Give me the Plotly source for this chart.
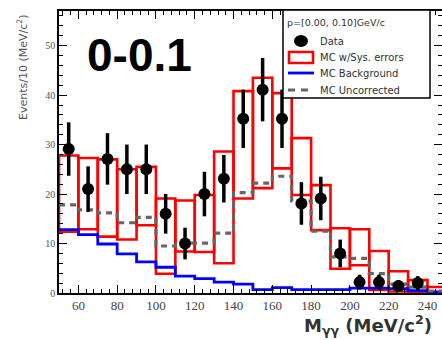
import plotly.graph_objects as go

# ---------------- data ----------------
bin_edges = [50, 60, 70, 80, 90, 100, 110, 120, 130, 140, 150,
             160, 170, 180, 190, 200, 210, 220, 230, 240, 250]
bin_centers = [55, 65, 75, 85, 95, 105, 115, 125, 135, 145, 155,
               165, 175, 185, 195, 205, 215, 225, 235, 245]

# MC with systematic errors: band low / high per bin
mc_sys_low = [12.4, 12.9, 11.4, 10.8, 13.7, 3.9, 8.4, 8.3, 6.0, 19.1,
              21.2, 25.2, 19.8, 12.7, 4.9, 5.6, 0.6, 0.3, 0.2, 0.1]
mc_sys_high = [27.8, 27.3, 27.0, 25.0, 25.5, 19.1, 18.7, 19.8, 28.6, 40.8,
               43.5, 40.4, 31.3, 21.8, 13.1, 12.9, 8.5, 4.4, 2.6, 1.2]

# MC uncorrected (grey dashed histogram)
mc_uncorr = [17.8, 16.8, 16.2, 14.2, 15.3, 9.5, 10.1, 10.1, 12.1, 20.3,
             22.2, 23.6, 18.6, 12.5, 7.3, 7.0, 3.9, 1.8, 1.2, 0.4]

# MC background (blue histogram)
mc_bkg = [12.8, 11.8, 9.9, 7.9, 6.3, 5.2, 3.4, 2.9, 2.2, 1.8,
          0.7, 1.1, 0.7, 0.7, 0.7, 1.0, 1.0, 0.9, 0.5, 0.2]

# Data points
data_x = [55, 65, 75, 85, 95, 105, 115, 125, 135, 145, 155,
          165, 175, 185, 195, 205, 215, 225, 235]
data_y = [29.1, 21.0, 27.1, 25.0, 25.0, 16.0, 10.0, 20.0, 23.1, 35.2, 41.1,
          35.2, 18.1, 19.1, 8.0, 2.2, 2.2, 1.4, 2.0]
data_err = [5.4, 4.6, 5.2, 5.0, 5.0, 4.0, 3.2, 4.5, 4.8, 5.9, 6.4,
            5.9, 4.3, 4.4, 2.8, 1.5, 1.5, 1.2, 1.4]

x_tick_vals = [60, 80, 100, 120, 140, 160, 180, 200, 220, 240]
y_tick_vals = [0, 10, 20, 30, 40, 50]

legend_header = "p=[0.00, 0.10]GeV/c"
legend_labels = ["Data", "MC w/Sys. errors", "MC Background", "MC Uncorrected"]

# ---------------- figure ----------------
RED = "#ff0000"
BLUE = "#0000ff"
GREY = "#666666"

fig = go.Figure()

fig.add_trace(go.Bar(
    x=bin_centers,
    base=mc_sys_low,
    y=[h - l for h, l in zip(mc_sys_high, mc_sys_low)],
    width=10,
    marker=dict(color="rgba(0,0,0,0)", line=dict(color=RED, width=2.6)),
    name=legend_labels[1],
))

fig.add_trace(go.Scatter(
    x=bin_edges,
    y=mc_bkg + [mc_bkg[-1]],
    mode="lines",
    line=dict(color=BLUE, width=2.8, shape="hv"),
    name=legend_labels[2],
))

fig.add_trace(go.Scatter(
    x=bin_edges,
    y=mc_uncorr + [mc_uncorr[-1]],
    mode="lines",
    line=dict(color=GREY, width=3.2, shape="hv", dash="6px,5px"),
    name=legend_labels[3],
))

fig.add_trace(go.Scatter(
    x=data_x,
    y=data_y,
    mode="markers",
    marker=dict(color="black", size=12, symbol="circle"),
    error_y=dict(type="data", array=data_err, color="black", thickness=3.5, width=0),
    name=legend_labels[0],
))

axis_common = dict(
    showline=True, linecolor="black", linewidth=1.5, mirror="ticks",
    ticks="inside", tickcolor="black", showgrid=False, zeroline=False,
    automargin=False,
)

fig.update_xaxes(
    range=[50, 247.5],
    tickvals=x_tick_vals,
    ticklen=8, tickwidth=1.3,
    minor=dict(dtick=4, tick0=60, ticks="inside", ticklen=4, tickcolor="black", tickwidth=1),
    tickfont=dict(family="Liberation Serif", size=13, color="#444444"),
    **axis_common,
)
fig.update_yaxes(
    range=[0, 57],
    tickvals=y_tick_vals,
    ticklen=8, tickwidth=1.3,
    minor=dict(dtick=2, ticks="inside", ticklen=4, tickcolor="black", tickwidth=1),
    tickfont=dict(family="Liberation Serif", size=10, color="#555555"),
    **axis_common,
)

# ---- hand-built legend (pixel positions converted to paper coords) ----
L, R_, T, B = 59, 442, 11, 293
PW, PH = R_ - L, B - T


def px(x):
    return (x - L) / PW


def py(y):
    return (B - y) / PH


shapes = [
    dict(type="rect", xref="paper", yref="paper",
         x0=px(283), x1=px(430), y0=py(98), y1=py(10),
         fillcolor="white", line=dict(color="black", width=1.5), layer="above"),
    # Data marker
    dict(type="circle", xref="paper", yref="paper",
         xsizemode="pixel", ysizemode="pixel",
         xanchor=px(301), yanchor=py(41), x0=-7, x1=7, y0=-6, y1=6,
         fillcolor="black", line=dict(color="black", width=0), layer="above"),
    # MC w/Sys. errors box
    dict(type="rect", xref="paper", yref="paper",
         x0=px(289), x1=px(313), y0=py(63), y1=py(52),
         fillcolor="white", line=dict(color=RED, width=2.6), layer="above"),
    # MC Background line
    dict(type="line", xref="paper", yref="paper",
         x0=px(288), x1=px(314), y0=py(73), y1=py(73),
         line=dict(color=BLUE, width=2.8), layer="above"),
    # MC Uncorrected dashed line
    dict(type="line", xref="paper", yref="paper",
         x0=px(288), x1=px(314), y0=py(90), y1=py(90),
         line=dict(color=GREY, width=3.2, dash="7px,6px"), layer="above"),
]

legend_font = dict(family="DejaVu Sans", size=10, color="#333333")
annotations = [
    dict(text=legend_header, xref="paper", yref="paper", x=px(285), y=py(23),
         xanchor="left", yanchor="middle", showarrow=False,
         font=dict(family="DejaVu Sans", size=9.5, color="#333333")),
]
for label, yy in zip(legend_labels, [41, 57, 73, 90]):
    annotations.append(dict(text=label, xref="paper", yref="paper", x=px(318), y=py(yy),
                            xanchor="left", yanchor="middle", showarrow=False,
                            font=legend_font))

annotations += [
    dict(text="0-0.1", xref="paper", yref="paper", x=px(139), y=py(55),
         xanchor="center", yanchor="middle", showarrow=False,
         font=dict(family="Liberation Sans", size=46, color="black", weight="bold")),
    dict(text="<b>M<sub>γγ</sub> (MeV/c<sup>2</sup>)</b>", xref="paper", yref="paper",
         x=px(302), y=py(325), xanchor="left", yanchor="middle", showarrow=False,
         font=dict(family="DejaVu Sans", size=18, color="#333333")),
    dict(text="Events/10 (MeV/c<sup>2</sup>)", xref="paper", yref="paper",
         x=px(22), y=py(68), xanchor="center", yanchor="middle", showarrow=False,
         textangle=-90,
         font=dict(family="DejaVu Sans", size=11, color="#555555")),
]

fig.update_layout(
    width=442, height=340,
    margin=dict(l=L, r=442 - R_, t=T, b=340 - B),
    paper_bgcolor="white", plot_bgcolor="white",
    barmode="overlay",
    showlegend=False,
    shapes=shapes,
    annotations=annotations,
)

fig.write_html(
    "out.html",
    config={"displayModeBar": False},
    post_script="document.body.style.margin='0';document.body.style.padding='0';"
                "document.documentElement.style.overflow='hidden';",
)
